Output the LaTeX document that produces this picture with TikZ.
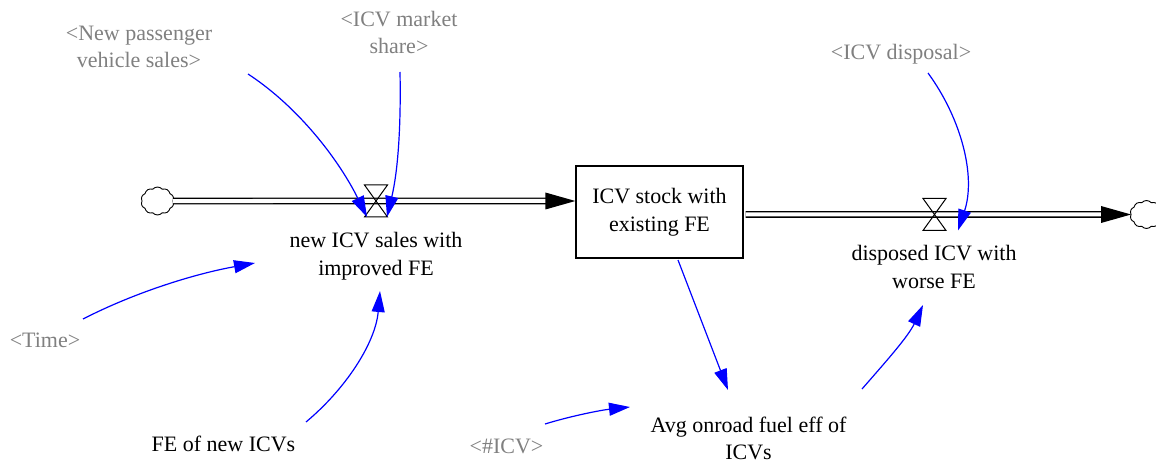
\documentclass[tikz,border=0pt]{standalone}
\usepackage{fontspec}
\setmainfont{Liberation Serif}
\usetikzlibrary{arrows.meta,shapes.symbols}
\definecolor{linkblue}{RGB}{0,0,255}
\definecolor{shadowgray}{RGB}{128,128,128}
\begin{document}
\begin{tikzpicture}[x=1pt,y=1pt,
  lbl/.style={font=\fontsize{22}{27.5}\selectfont, align=center, inner sep=0pt},
  shadow/.style={lbl, text=shadowgray},
  stockbox/.style={lbl, draw, line width=1.3pt, minimum width=167pt, minimum height=92pt},
  pipe/.style={draw=black, double=white, line width=1.4pt, double distance=4pt},
  valvebox/.style={minimum width=23pt, minimum height=32pt, inner sep=0pt, outer sep=0pt},
  valveline/.style={line width=1pt},
  sourcecloud/.style={cloud, cloud puffs=10, cloud puff arc=100, draw,
    line width=0.9pt, minimum width=33pt, minimum height=28pt, inner sep=0pt, outer sep=0pt},
  link/.style={draw=linkblue, line width=1.2pt, -{Triangle[length=21pt,width=13pt]}},
]
\useasboundingbox (0,0) rectangle (1156,464);

% shadow variables
\node[shadow] (npv)   at (139,417)   {<New passenger\\vehicle sales>};
\node[shadow] (ims)   at (399,431.5) {<ICV market\\share>};
\node[shadow] (idisp) at (901,410)   {<ICV disposal>};
\node[shadow] (time)  at (45,123.5)  {<Time>};
\node[shadow] (hicv)  at (506.5,18)  {<\#ICV>};

% auxiliaries and stock
\node[lbl] (fenew) at (223.5,20.5) {FE of new ICVs};
\node[lbl] (avg)   at (748.5,25.5) {Avg onroad fuel eff of\\ICVs};
\node[stockbox] (stock) at (659.5,252) {ICV stock with\\existing FE};

% source, sink and valves
\node[sourcecloud] (src)  at (157.5,263)  {};
\node[sourcecloud] (sink) at (1146.5,249.5) {};
\node[valvebox] (v1) at (376,263)     {};
\node[valvebox] (v2) at (934.5,249.5) {};
\node[lbl] (f1) at (376,208) {new ICV sales with\\improved FE};
\node[lbl] (f2) at (934,197) {disposed ICV with\\worse FE};

% inflow pipe
\draw[pipe] (src.east) -- ([xshift=-29pt,yshift=11pt]stock.west);
\fill ([yshift=11pt]stock.west) -- ++(-30,8.5) -- ++(0,-17) -- cycle;
% outflow pipe
\draw[pipe] ([xshift=2pt,yshift=-2.5pt]stock.east) -- ([xshift=-29pt]sink.west);
\fill (sink.west) -- ++(-30,8.5) -- ++(0,-17) -- cycle;

% valves
\draw[valveline] (v1.north west) -- (v1.north east) -- (v1.south west) -- (v1.south east) -- cycle;
\draw[valveline] (v2.north west) -- (v2.north east) -- (v2.south west) -- (v2.south east) -- cycle;

% causal links
\draw[link] ([shift={(109,-27)}]npv.center) .. controls +(52,-34) and +(-27,55) .. ([xshift=2.5pt]v1.south west);
\draw[link] ([shift={(1,-39.5)}]ims.center) .. controls +(1,-50) and +(11.5,48.5) .. ([xshift=-0.5pt]v1.south east);
\draw[link] ([shift={(27,-19)}]idisp.center) .. controls +(33.6,-46) and +(18,54) .. ([xshift=12pt]v2.south east);
\draw[link] ([shift={(38,21.5)}]time.center) .. controls +(53.5,27.4) and +(-59,-10.6) .. ([shift={(-121,-7)}]f1.center);
\draw[link] ([shift={(82.5,21.5)}]fenew.center) .. controls +(40,33.4) and +(-4.5,-51.8) .. ([shift={(4,-35)}]f1.center);
\draw[link] ([shift={(18.5,-48)}]stock.center) -- ([shift={(-20.5,48.5)}]avg.center);
\draw[link] ([shift={(38.5,22)}]hicv.center) .. controls +(27,8.3) and +(-28,-3) .. ([shift={(-118.5,31.5)}]avg.center);
\draw[link] ([shift={(113.5,49.5)}]avg.center) .. controls +(23,26.4) and +(-14.8,-31.7) .. ([shift={(-11,-38)}]f2.center);
\end{tikzpicture}
\end{document}
